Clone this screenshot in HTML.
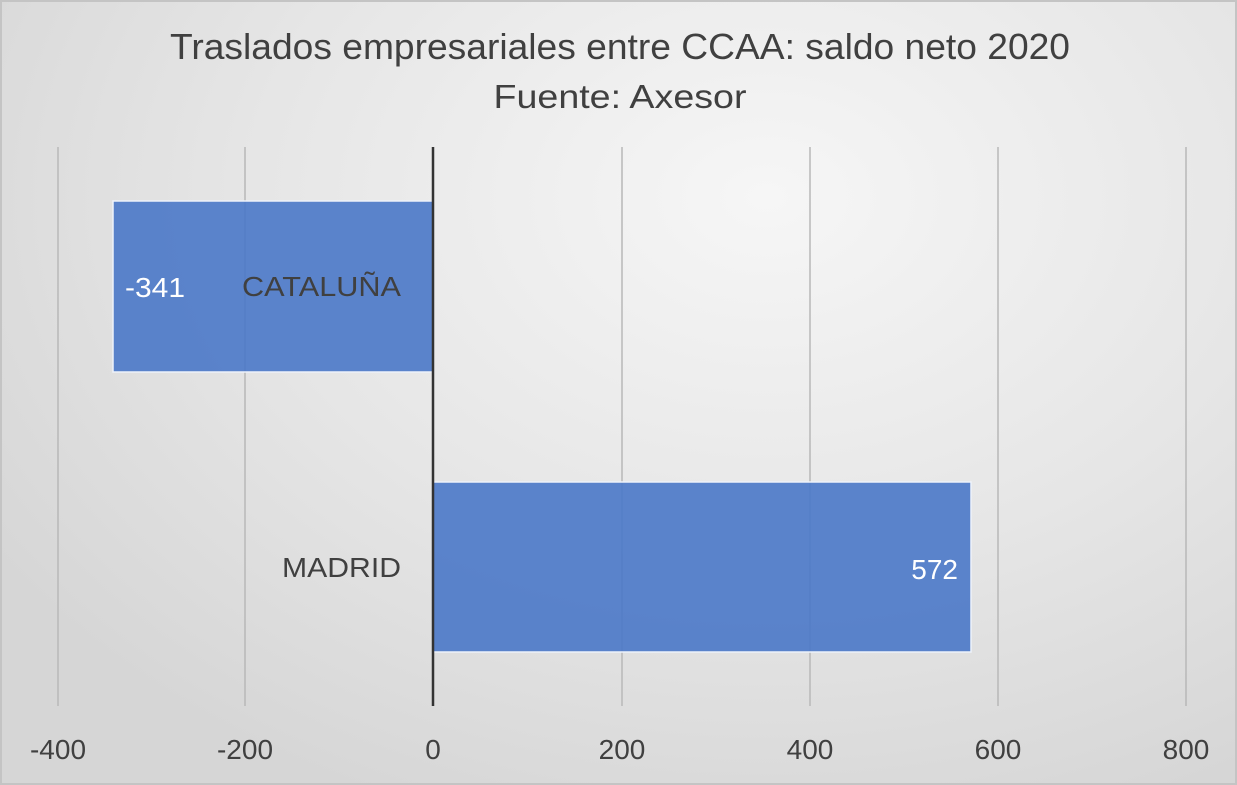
<!DOCTYPE html>
<html><head><meta charset="utf-8"><style>
html,body{margin:0;padding:0}
body{width:1237px;height:785px;overflow:hidden}
.c{position:absolute;left:0;top:0;width:1233px;height:781px;border:2px solid #c4c4c4;
background:radial-gradient(ellipse 75% 85% at 62% 25%,#f6f6f6 0%,#e6e6e6 55%,#d6d6d6 100%);}
svg{position:absolute;left:0;top:0}
text{font-family:"Liberation Sans",sans-serif;fill:#404040}
</style></head><body><div class="c"></div>
<svg width="1237" height="785">
<text x="620" y="59" font-size="36" text-anchor="middle" textLength="900" lengthAdjust="spacingAndGlyphs">Traslados empresariales entre CCAA: saldo neto 2020</text>
<text x="620" y="108" font-size="33" text-anchor="middle" textLength="253" lengthAdjust="spacingAndGlyphs">Fuente: Axesor</text>
<g stroke="#b8b8b8" stroke-width="1.5">
<line x1="58" y1="147" x2="58" y2="706"/><line x1="245" y1="147" x2="245" y2="706"/>
<line x1="622" y1="147" x2="622" y2="706"/><line x1="810" y1="147" x2="810" y2="706"/>
<line x1="998" y1="147" x2="998" y2="706"/><line x1="1186" y1="147" x2="1186" y2="706"/>
</g>
<rect x="113" y="201" width="320" height="171" fill="#4a78c8" fill-opacity="0.9" stroke="#eef2fa" stroke-width="1.5"/>
<rect x="433" y="482" width="538" height="170" fill="#4a78c8" fill-opacity="0.9" stroke="#eef2fa" stroke-width="1.5"/>
<line x1="433" y1="147" x2="433" y2="706" stroke="#333" stroke-width="2.5"/>
<text x="125" y="297" font-size="28" style="fill:#fff" textLength="60" lengthAdjust="spacingAndGlyphs">-341</text>
<text x="401" y="296" font-size="28" text-anchor="end" textLength="159" lengthAdjust="spacingAndGlyphs">CATALUÑA</text>
<text x="401" y="577" font-size="28" text-anchor="end" textLength="119" lengthAdjust="spacingAndGlyphs">MADRID</text>
<text x="958" y="579" font-size="28" text-anchor="end" style="fill:#fff">572</text>
<g font-size="28" text-anchor="middle">
<text x="58" y="759">-400</text><text x="245" y="759">-200</text><text x="433" y="759">0</text>
<text x="622" y="759">200</text><text x="810" y="759">400</text><text x="998" y="759">600</text><text x="1186" y="759">800</text>
</g>
</svg></body></html>
